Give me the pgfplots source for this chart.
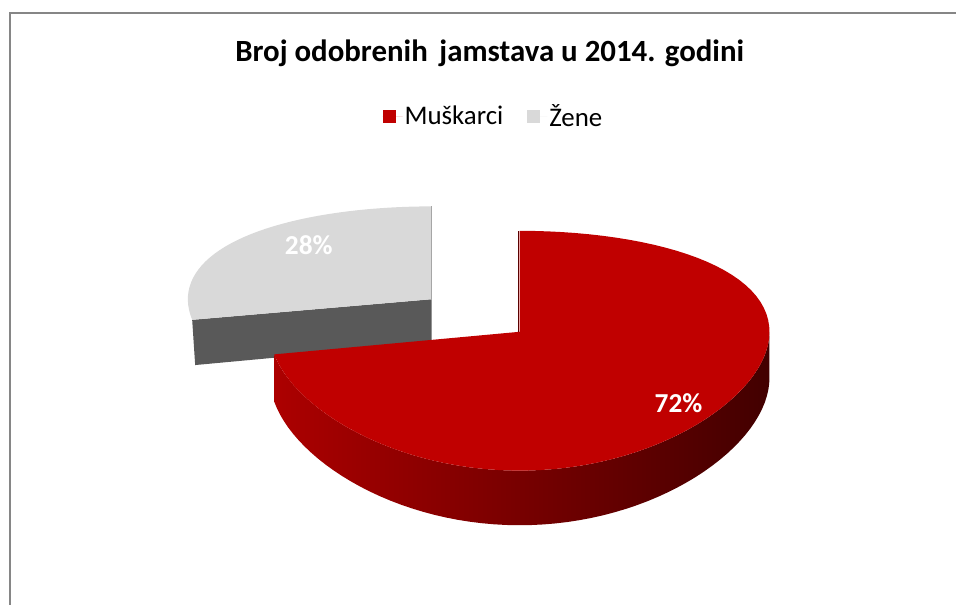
\documentclass[border=0pt]{standalone}
\usepackage{fontspec}
\setmainfont{Carlito}
\usepackage{pgfplots}
\usepackage{pgfplotstable}
\pgfplotsset{compat=1.18}

\definecolor{redtop}{RGB}{192,0,0}
\definecolor{redsideL}{RGB}{172,0,0}
\definecolor{redsideR}{RGB}{66,0,0}
\definecolor{rededge}{RGB}{90,0,0}
\definecolor{graytop}{RGB}{217,217,217}
\definecolor{grayside}{RGB}{89,89,89}
\definecolor{grayedge}{RGB}{166,166,166}
\definecolor{framec}{RGB}{134,134,134}

\pgfplotstableread{
label value
Muskarci 72
Zene 28
}\piedata

% projection of the 3D pie (pixel units)
\def\pcx{520}
\def\pcy{332}
\def\pA{250}
\def\pAg{244}
\def\pB{117}
\def\pP{0.158}
\def\pH{46}
\pgfmathdeclarefunction{sx}{1}{\pgfmathparse{\pcx+\pA*(#1)}}
\pgfmathdeclarefunction{sxg}{1}{\pgfmathparse{\pcx+\pA*\du+\pAg*(#1)}}
\pgfmathdeclarefunction{sy}{2}{\pgfmathparse{\pcy+(-\pB*(#1)+(#2)*\pH)/(1+\pP*(#1))}}

\begin{document}%
\pgfplotstablegetelem{0}{value}\of\piedata\let\valM\pgfplotsretval%
\pgfplotstablegetelem{1}{value}\of\piedata\let\valZ\pgfplotsretval%
\pgfmathsetmacro\sM{90}%
\pgfmathsetmacro\eM{90-3.6*\valM}%
\pgfmathsetmacro\eG{90+3.6*\valZ}%
\pgfmathsetmacro\midG{(90+\eG)/2}%
\pgfmathsetmacro\du{0.457*cos(\midG)}%
\pgfmathsetmacro\dv{0.457*sin(\midG)}%
\begin{tikzpicture}
\begin{axis}[
  scale only axis, width=957bp, height=605bp,
  xmin=0, xmax=957, ymin=0, ymax=605, y dir=reverse,
  hide axis, clip=false,
  legend style={at={(0.516,0.808)}, anchor=center, draw=none, fill=none,
    legend columns=2, font=\fontsize{27}{32}\selectfont,
    /tikz/every even column/.append style={column sep=22bp}},
  legend image code/.code={\fill[#1] (0bp,-7bp) rectangle (13bp,6bp);\path (0bp,0bp) -- (20bp,0bp);},
]
\path (axis cs:0,0) rectangle (axis cs:957,605);
\addlegendimage{fill=redtop, draw=none}
\addlegendentry{Muškarci}
\addlegendimage{fill=graytop, draw=none}
\addlegendentry{Žene}

% frame
\draw[framec, line width=1.3bp] (axis cs:10,605) -- (axis cs:10,13) -- (axis cs:957,13);

% title
\node[font=\fontsize{31}{37}\selectfont\bfseries, anchor=base] at (axis cs:490,61.7)
  {Broj odobrenih\hspace{0.15em} jamstava u 2014. godini};

% grey slice (exploded)
\fill[grayside] (axis cs:{sxg(0)},{sy(\dv,0)})
  -- (axis cs:{sxg(cos(\eG))},{sy(\dv+sin(\eG),0)})
  -- (axis cs:{sxg(cos(\eG))+3},{sy(\dv+sin(\eG),1)})
  -- (axis cs:{sxg(0)},{sy(\dv,1)}) -- cycle;
\fill[graytop] (axis cs:{sxg(0)},{sy(\dv,0)})
  \foreach \i in {0,...,40} { -- (axis cs:{sxg(cos(90+(\eG-90)*\i/40))},{sy(\dv+sin(90+(\eG-90)*\i/40),0)}) }
  -- cycle;
\draw[grayedge, line width=1bp] (axis cs:{sxg(0)},{sy(\dv,0)}) -- (axis cs:{sxg(0)},{sy(\dv+1,0)});

% red slice
\shade[left color=redsideL, right color=redsideR]
  (axis cs:{sx(cos(\eM))},{sy(sin(\eM),0)})
  \foreach \i in {0,...,60} { -- (axis cs:{sx(cos(\eM*(1-\i/60)))},{sy(sin(\eM*(1-\i/60)),0)}) }
  \foreach \i in {0,...,60} { -- (axis cs:{sx(cos(\eM*\i/60))},{sy(sin(\eM*\i/60),1)}) }
  -- cycle;
\fill[redtop] (axis cs:{sx(0)},{sy(0,0)})
  \foreach \i in {0,...,80} { -- (axis cs:{sx(cos(\sM+(\eM-\sM)*\i/80))},{sy(sin(\sM+(\eM-\sM)*\i/80),0)}) }
  -- cycle;
\draw[rededge, line width=1.2bp] (axis cs:{sx(0)-1},{sy(0,0)}) -- (axis cs:{sx(0)-1},{sy(1,0)});

% data labels
\node[text=white, font=\fontsize{27.5}{32}\selectfont\bfseries] at (axis cs:309,245) {\valZ\%};
\node[text=white, font=\fontsize{27.5}{32}\selectfont\bfseries] at (axis cs:679,403) {\valM\%};
\end{axis}
\end{tikzpicture}%
\end{document}
